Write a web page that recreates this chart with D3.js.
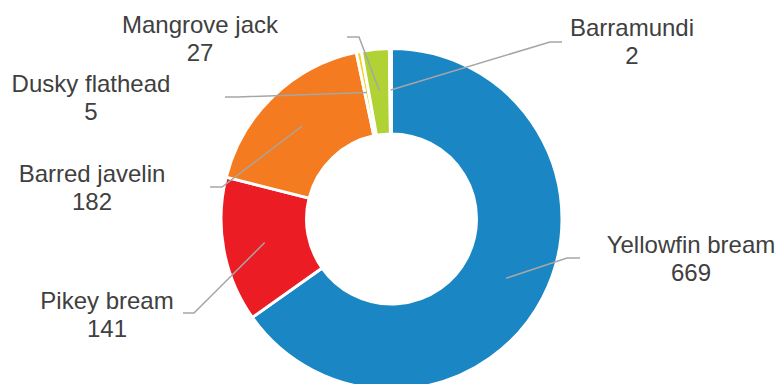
<!DOCTYPE html>
<html>
<head>
<meta charset="utf-8">
<script src="https://cdn.jsdelivr.net/npm/d3@7"></script>
<style>
  html, body { margin: 0; padding: 0; background: #fff; }
  svg { display: block; }
  text { font-family: "Liberation Sans", Arial, sans-serif; fill: #404040; }
</style>
</head>
<body>
<svg id="chart" width="778" height="384"></svg>
<script>
// Catch by species
const species = ["Yellowfin bream", "Pikey bream", "Barred javelin", "Dusky flathead", "Mangrove jack", "Barramundi"];
const counts  = [669, 141, 182, 5, 27, 2];
const colors  = ["#1a86c3", "#ec1c24", "#f47b20", "#f5cf1a", "#b0d235", "#7f7f7f"];

// Label placement: text anchor (centre of first line) and leader elbow
const labelLayout = [
  { x: 691, y: 253, elbow: [567, 258], end: [580, 258] },
  { x: 107, y: 309, elbow: [194, 313], end: [183, 313] },
  { x: 92,  y: 182, elbow: [222, 187], end: [210, 187] },
  { x: 91,  y: 92,  elbow: [238, 97],  end: [225, 97] },
  { x: 200, y: 33,  elbow: [359, 37],  end: [347, 37] },
  { x: 632, y: 36,  elbow: [550, 42],  end: [562, 42] }
];

const svg = d3.select("#chart");
const cx = 391.5, cy = 219, outerR = 170.5, innerR = 85;
const g = svg.append("g").attr("transform", `translate(${cx},${cy})`);

const data = species.map((name, i) => ({ name, value: counts[i], color: colors[i], layout: labelLayout[i] }));

const pie = d3.pie().value(d => d.value).sort(null);
const arcs = pie(data);

const arc = d3.arc().innerRadius(innerR).outerRadius(outerR);
const leaderArc = d3.arc().innerRadius(129).outerRadius(129);

g.selectAll("path.slice")
  .data(arcs)
  .join("path")
  .attr("class", "slice")
  .attr("d", arc)
  .attr("fill", d => d.data.color)
  .attr("stroke", "#fff")
  .attr("stroke-width", 3)
  .attr("stroke-linejoin", "miter");

// Leader lines from the middle of each ring segment
const leaders = svg.append("g");
arcs.forEach(d => {
  const [px, py] = leaderArc.centroid(d);
  const L = d.data.layout;
  leaders.append("polyline")
    .attr("points", [[cx + px, cy + py], L.elbow, L.end].map(p => p.join(",")).join(" "))
    .attr("fill", "none")
    .attr("stroke", "#a6a6a6")
    .attr("stroke-width", 1.5);
});

// Category name and value labels
const labels = svg.append("g");
arcs.forEach(d => {
  const L = d.data.layout;
  const t = labels.append("text")
    .attr("text-anchor", "middle")
    .attr("font-size", 24);
  t.append("tspan").attr("x", L.x).attr("y", L.y).text(d.data.name);
  t.append("tspan").attr("x", L.x).attr("y", L.y + 28).text(d3.format(",")(d.data.value));
});
</script>
</body>
</html>
